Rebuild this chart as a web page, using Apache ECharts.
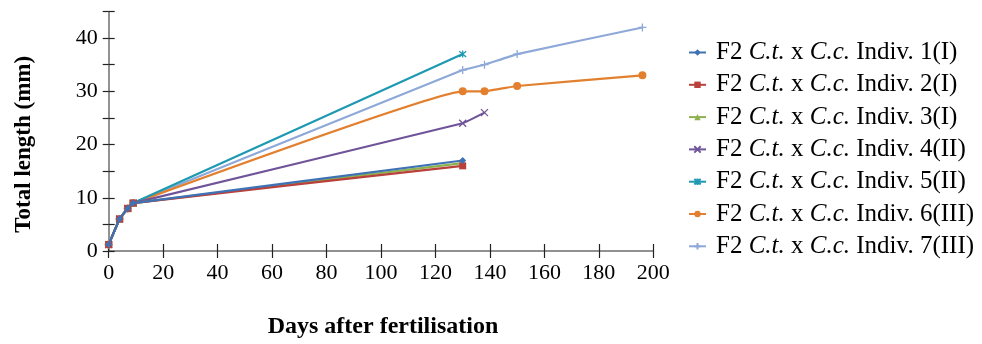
<!DOCTYPE html>
<html>
<head>
<meta charset="utf-8">
<script src="https://cdn.jsdelivr.net/npm/echarts@6/dist/echarts.min.js"></script>
<style>
html,body{margin:0;padding:0;background:#fff;}
#chart{width:982px;height:344px;}
</style>
</head>
<body>
<div id="chart"></div>
<script>
// ---- data ----
const seriesNames = [
  'Indiv. 1(I)', 'Indiv. 2(I)', 'Indiv. 3(I)', 'Indiv. 4(II)',
  'Indiv. 5(II)', 'Indiv. 6(III)', 'Indiv. 7(III)'
];
const days1 = [0, 4, 7, 9, 130];
const len1  = [1.2, 6, 8, 9, 17];
const days2 = [0, 4, 7, 9, 130];
const len2  = [1.2, 6, 8, 9, 16];
const days3 = [0, 4, 7, 9, 130];
const len3  = [1.2, 6, 8, 9, 16.5];
const days4 = [0, 4, 7, 9, 130, 138];
const len4  = [1.2, 6, 8, 9, 24, 26];
const days5 = [0, 4, 7, 9, 130];
const len5  = [1.2, 6, 8, 9, 37];
const days6 = [0, 4, 7, 9, 130, 138, 150, 196];
const len6  = [1.2, 6, 8, 9, 30, 30, 31, 33];
const days7 = [0, 4, 7, 9, 130, 138, 150, 196];
const len7  = [1.2, 6, 8, 9, 34, 35, 37, 42];
const xTicks = [0, 20, 40, 60, 80, 100, 120, 140, 160, 180, 200];
const yTicks = [0, 10, 20, 30, 40];

const allDays = [days1, days2, days3, days4, days5, days6, days7];
const allLen  = [len1, len2, len3, len4, len5, len6, len7];

// ---- styles ----
const colors = ['#3F72B5', '#B9403B', '#8DB14E', '#70549A', '#1E99B2', '#E2802F', '#8EA9D8'];
const crossPath = 'path://M0,0L10,10M10,0L0,10';
const starPath  = 'path://M0,0L10,10M10,0L0,10M5,-1L5,11';
const plusPath  = 'path://M5,0L5,10M0,5L10,5';
const symbols = ['diamond', 'rect', 'triangle', crossPath, starPath, 'circle', plusPath];
const symSizes = [7, 7, 7, 7, 7, 8, 8];
const strokeSym = [false, false, false, true, true, false, true];

const FONT = '"Liberation Serif", "Times New Roman", serif';

const series = allDays.map((d, i) => ({
  name: seriesNames[i],
  type: 'line',
  xAxisIndex: 0,
  yAxisIndex: 0,
  data: d.map((x, j) => [x, allLen[i][j]]),
  smooth: 0.08,
  symbol: symbols[i],
  symbolSize: symSizes[i],
  color: colors[i],
  lineStyle: { width: 2.2, color: colors[i] },
  itemStyle: strokeSym[i]
    ? { color: colors[i], borderColor: colors[i], borderWidth: 1.3 }
    : { color: colors[i] },
  emphasis: { disabled: true },
  z: 10 - i
}));

const axisCol = '#6e6e6e';

const option = {
  animation: false,
  backgroundColor: '#ffffff',
  textStyle: { fontFamily: FONT },
  grid: { left: 108.7, top: 11.5, width: 544.6, height: 241.2, containLabel: false },
  legend: {
    orient: 'vertical',
    left: 683,
    top: 35,
    itemWidth: 17,
    itemHeight: 8,
    itemGap: 7.3,
    selectedMode: false,
    data: seriesNames,
    formatter: name => '{n|F2 }{i|C.t.}{n| x }{i|C.c.}{n| ' + name + '}',
    textStyle: {
      fontFamily: FONT,
      fontSize: 25,
      color: '#000',
      padding: [0, 0, 0, 5],
      rich: {
        n: { fontFamily: FONT, fontSize: 25, color: '#000', lineHeight: 25 },
        i: { fontFamily: FONT, fontSize: 25, color: '#000', fontStyle: 'italic', lineHeight: 25 }
      }
    }
  },
  xAxis: [
    {
      type: 'value', min: 0, max: 200, interval: 20, position: 'bottom',
      name: 'Days after fertilisation', nameLocation: 'middle', nameGap: 64,
      nameTextStyle: { fontFamily: FONT, fontSize: 24, fontWeight: 'bold', color: '#000', padding: [0, 0, 0, 4] },
      axisLine: { show: true, onZero: false, lineStyle: { color: axisCol, width: 1.5 } },
      axisTick: { show: true, inside: false, length: 7, lineStyle: { color: '#222', width: 1.2 } },
      axisLabel: {
        margin: 11, fontFamily: FONT, fontSize: 22, color: '#000',
        formatter: v => (xTicks.indexOf(v) >= 0 ? String(v) : '')
      },
      splitLine: { show: false }
    },
    {
      type: 'value', min: 0, max: 200, interval: 20, position: 'bottom', gridIndex: 0,
      axisLine: { show: false, onZero: false },
      axisTick: { show: true, inside: true, length: 7, lineStyle: { color: '#222', width: 1.2 } },
      axisLabel: { show: false },
      splitLine: { show: false }
    }
  ],
  yAxis: [
    {
      type: 'value', min: 0, max: 45, interval: 5, position: 'left',
      name: 'Total length (mm)', nameLocation: 'middle', nameGap: 73,
      nameTextStyle: { fontFamily: FONT, fontSize: 23, fontWeight: 'bold', color: '#000', padding: [0, 26, 0, 0] },
      axisLine: { show: true, onZero: false, lineStyle: { color: axisCol, width: 1.5 } },
      axisTick: { show: true, inside: false, length: 6, lineStyle: { color: '#222', width: 1.2 } },
      axisLabel: {
        margin: 11, fontFamily: FONT, fontSize: 22, color: '#000',
        formatter: v => (yTicks.indexOf(v) >= 0 ? String(v) : '')
      },
      splitLine: { show: false }
    },
    {
      type: 'value', min: 0, max: 45, interval: 5, position: 'left', gridIndex: 0,
      axisLine: { show: false, onZero: false },
      axisTick: { show: true, inside: true, length: 6, lineStyle: { color: '#222', width: 1.2 } },
      axisLabel: { show: false },
      splitLine: { show: false }
    }
  ],
  series: series
};

const chart = echarts.init(document.getElementById('chart'), null, { renderer: 'canvas' });
chart.setOption(option);
</script>
</body>
</html>
